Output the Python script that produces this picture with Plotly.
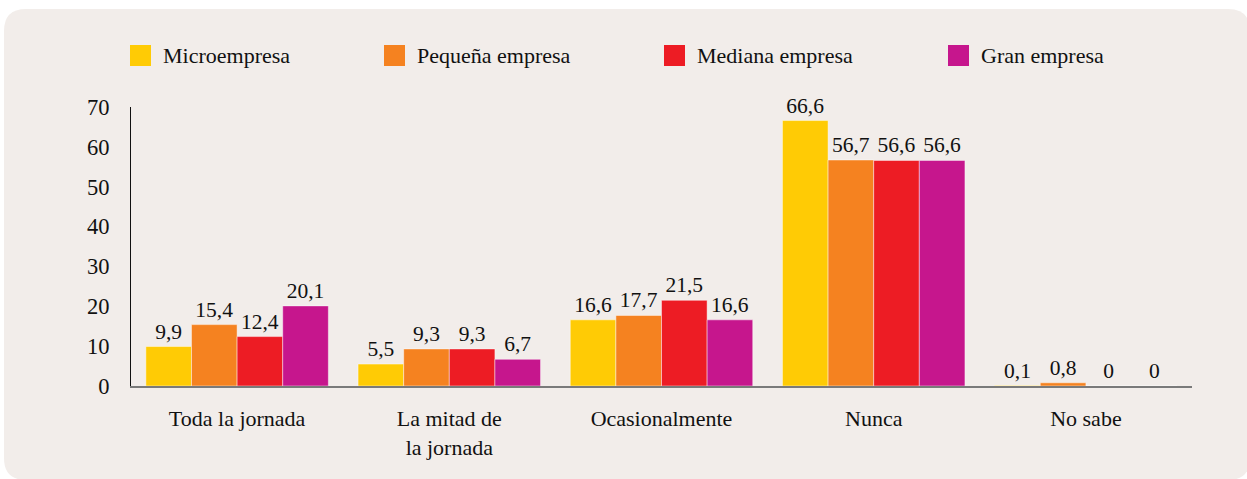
import plotly.graph_objects as go

categories = ["Toda la jornada", "La mitad de<br>la jornada", "Ocasionalmente", "Nunca", "No sabe"]
series_names = ["Microempresa", "Pequeña empresa", "Mediana empresa", "Gran empresa"]
micro = [9.9, 5.5, 16.6, 66.6, 0.1]
pequena = [15.4, 9.3, 17.7, 56.7, 0.8]
mediana = [12.4, 9.3, 21.5, 56.6, 0]
gran = [20.1, 6.7, 16.6, 56.6, 0]
series_values = [micro, pequena, mediana, gran]
colors = ["#FFCB05", "#F58220", "#ED1C24", "#C6168D"]
y_ticks = [0, 10, 20, 30, 40, 50, 60, 70]

W, H = 1247, 479
L, R, T, B = 131, 55, 107, 93
PW, PH = W - L - R, H - T - B

def px_x(p):
    return (p - L) / PW

def px_y(p):
    return (H - B - p) / PH

FONT = "Liberation Serif"

fig = go.Figure()
for name, vals, col in zip(series_names, series_values, colors):
    fig.add_trace(go.Bar(
        x=categories, y=vals, name=name,
        marker=dict(color=col, line=dict(color="rgba(255,255,255,0.45)", width=1)),
        text=[("%g" % v).replace(".", ",") for v in vals],
        textposition="outside", cliponaxis=False,
        textfont=dict(family=FONT, size=21.5, color="#111"),
        showlegend=False,
    ))

# rounded background
x0, x1, y0, y1, r = 4, 1250, 9, 480, 22
def P(x, y):
    return f"{px_x(x):.5f},{px_y(y):.5f}"
path = (f"M {P(x0 + r, y0)} L {P(x1 - r, y0)} Q {P(x1, y0)} {P(x1, y0 + r)} "
        f"L {P(x1, y1 - r)} Q {P(x1, y1)} {P(x1 - r, y1)} "
        f"L {P(x0 + r, y1)} Q {P(x0, y1)} {P(x0, y1 - r)} "
        f"L {P(x0, y0 + r)} Q {P(x0, y0)} {P(x0 + r, y0)} Z")
shapes = [dict(type="path", path=path, xref="paper", yref="paper",
               fillcolor="#F2EDEA", line=dict(width=0), layer="below")]

annotations = []
sq_x = [130, 384, 664, 948]
for name, col, sx in zip(series_names, colors, sq_x):
    shapes.append(dict(type="rect", xref="paper", yref="paper",
                       x0=px_x(sx), x1=px_x(sx + 21), y0=px_y(66), y1=px_y(45),
                       fillcolor=col, line=dict(width=0)))
    annotations.append(dict(text=name, xref="paper", yref="paper",
                            x=px_x(sx + 31), y=px_y(56), xanchor="left", yanchor="middle",
                            showarrow=False, font=dict(family=FONT, size=22, color="#111")))

fig.update_layout(
    width=W, height=H,
    margin=dict(l=L, r=R, t=T, b=B),
    paper_bgcolor="white", plot_bgcolor="rgba(0,0,0,0)",
    barmode="group", bargap=0.14, bargroupgap=0,
    shapes=shapes, annotations=annotations,
    font=dict(family=FONT, size=21, color="#111"),
    xaxis=dict(showline=True, linecolor="#7a7a7a", linewidth=2, ticks="",
               tickfont=dict(family=FONT, size=22, color="#111"),
               ticklabelstandoff=12, showgrid=False, fixedrange=True),
    yaxis=dict(range=[0, 70], tickvals=y_ticks, showline=True, linecolor="#111", linewidth=1,
               ticks="", showgrid=False, zeroline=False,
               tickfont=dict(family=FONT, size=22.5, color="#111"),
               ticklabelstandoff=16),
)

fig.write_html("out.html", config={"displayModeBar": False},
               post_script="document.body.style.margin='0';document.body.style.overflow='hidden';")
